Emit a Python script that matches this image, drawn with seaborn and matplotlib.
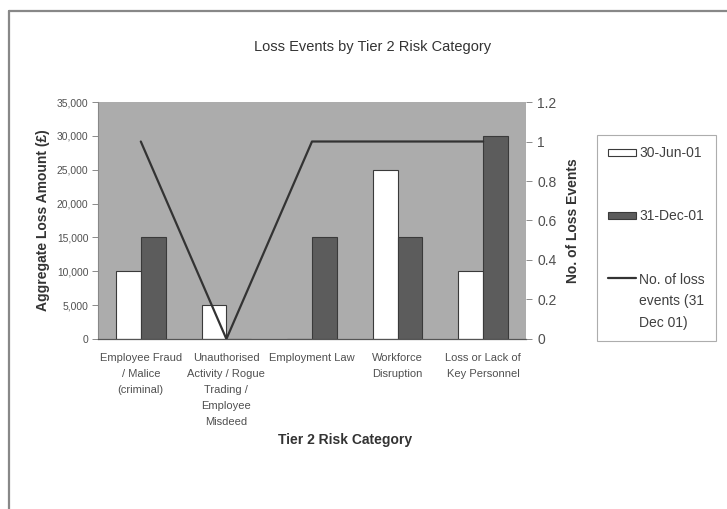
import numpy as np
import pandas as pd
import matplotlib
matplotlib.use("Agg")
import matplotlib.pyplot as plt
from matplotlib.patches import Patch, Rectangle
from matplotlib.lines import Line2D
from matplotlib.legend_handler import HandlerLine2D, HandlerPatch
import seaborn as sns

categories = [
    "Employee Fraud\n/ Malice\n(criminal)",
    "Unauthorised\nActivity / Rogue\nTrading /\nEmployee\nMisdeed",
    "Employment Law",
    "Workforce\nDisruption",
    "Loss or Lack of\nKey Personnel",
]
jun_2001 = [10000, 5000, 0, 25000, 10000]
dec_2001 = [15000, 0, 15000, 15000, 30000]
loss_events_dec = [1, 0, 1, 1, 1]
series_names = ["30-Jun-01", "31-Dec-01"]
line_name = "No. of loss\nevents (31\nDec 01)"

left_ticks = [0, 5000, 10000, 15000, 20000, 25000, 30000, 35000]
right_ticks = [0, 0.2, 0.4, 0.6, 0.8, 1, 1.2]

df = pd.DataFrame({
    "category": categories * 2,
    "period": [series_names[0]] * len(categories) + [series_names[1]] * len(categories),
    "amount": jun_2001 + dec_2001,
})

sns.set_theme(style="white")
plt.rcParams["font.family"] = ["Liberation Sans", "DejaVu Sans"]

fill_gray = "#acacac"
bar_dark = "#5c5c5c"
edge_col = "#3a3a3a"
text_col = "#333333"
tick_col = "#505050"

LEG_FS = 10
LEG_LS = 1.7


class TopLineHandler(HandlerLine2D):
    """Line handle placed beside the first row of a multi-line label."""

    def __init__(self, n_lines, **kw):
        super().__init__(**kw)
        self.n_lines = n_lines

    def create_artists(self, legend, orig_handle, xdescent, ydescent,
                       width, height, fontsize, trans):
        artists = super().create_artists(legend, orig_handle, xdescent, ydescent,
                                         width, height, fontsize, trans)
        shift = (self.n_lines - 1) / 2 * LEG_LS * fontsize
        for a in artists:
            a.set_ydata(np.asarray(a.get_ydata()) + shift)
        return artists


def thin_box(legend, orig_handle, xdescent, ydescent, width, height, fontsize):
    h = 0.5 * fontsize
    return Rectangle((-xdescent, -ydescent + (height - h) / 2), width, h)


fig = plt.figure(figsize=(7.27, 5.09), dpi=100)
ax = fig.add_axes([0.1348, 0.334, 0.5887, 0.4656])
ax.set_facecolor(fill_gray)

sns.barplot(data=df, x="category", y="amount", hue="period",
            palette=["white", bar_dark], width=0.58, gap=0,
            edgecolor=edge_col, linewidth=0.8, ax=ax, legend=False)

ax.set_ylim(0, 35000)
ax.set_xlim(-0.5, len(categories) - 0.5)
ax.set_yticks(left_ticks)
ax.set_yticklabels([f"{v:,}" for v in left_ticks], fontsize=7.4, color=tick_col)
ax.set_xticks(range(len(categories)))
ax.set_xticklabels(categories, fontsize=8, color=tick_col, linespacing=1.75)
ax.tick_params(axis="y", direction="out", length=4, width=0.6, color="#777777", pad=3, left=True)
ax.tick_params(axis="x", length=0, pad=10)
ax.set_xlabel("")
ax.set_ylabel("Aggregate Loss Amount (£)", fontsize=10, fontweight="bold", color=text_col, labelpad=5)
for side in ["top", "right"]:
    ax.spines[side].set_visible(False)
ax.spines["left"].set_color("#888888")
ax.spines["left"].set_linewidth(0.8)
ax.spines["bottom"].set_color("#555555")
ax.spines["bottom"].set_linewidth(0.9)

ax2 = ax.twinx()
sns.lineplot(x=np.arange(len(categories)), y=loss_events_dec, ax=ax2,
             color="#333333", linewidth=1.6)
ax2.set_ylim(0, 1.2)
ax2.set_yticks(right_ticks)
ax2.set_yticklabels([f"{v:g}" for v in right_ticks], fontsize=10, color=tick_col)
ax2.tick_params(axis="y", direction="out", length=4, width=0.6, color="#777777", pad=4, right=True)
ax2.set_ylabel("No. of Loss Events", fontsize=10, fontweight="bold", color=text_col, labelpad=7)
for side in ["top", "left", "bottom", "right"]:
    ax2.spines[side].set_visible(False)

fig.text(0.513, 0.908, "Loss Events by Tier 2 Risk Category", ha="center", va="center",
         fontsize=10.5, color=text_col)
fig.text(0.475, 0.136, "Tier 2 Risk Category", ha="center", va="center",
         fontsize=10, fontweight="bold", color=text_col)

jun_handle = Patch(facecolor="white", edgecolor=edge_col, linewidth=0.8)
dec_handle = Patch(facecolor=bar_dark, edgecolor=edge_col, linewidth=0.8)
line_handle = Line2D([0], [0], color="#333333", linewidth=1.6)
leg = fig.legend([jun_handle, dec_handle, line_handle], series_names + [line_name],
                 loc="upper left", bbox_to_anchor=(0.821, 0.735), fontsize=LEG_FS,
                 labelspacing=3.55, handlelength=2.0, handletextpad=0.25,
                 borderpad=0.8, borderaxespad=0,
                 handler_map={Patch: HandlerPatch(patch_func=thin_box),
                              line_handle: TopLineHandler(3)},
                 frameon=True, fancybox=False, edgecolor="#999999",
                 labelcolor="#404040")
leg.get_frame().set_linewidth(0.8)
for t in leg.get_texts():
    t.set_linespacing(LEG_LS)

# frame lines along the top and left of the chart area
fig.add_artist(Line2D([0.0124, 1.0], [0.978, 0.978], color="#888888", linewidth=1.6,
                      transform=fig.transFigure))
fig.add_artist(Line2D([0.0124, 0.0124], [0.0, 0.978], color="#888888", linewidth=1.6,
                      transform=fig.transFigure))

fig.savefig("out.png", dpi=100)
